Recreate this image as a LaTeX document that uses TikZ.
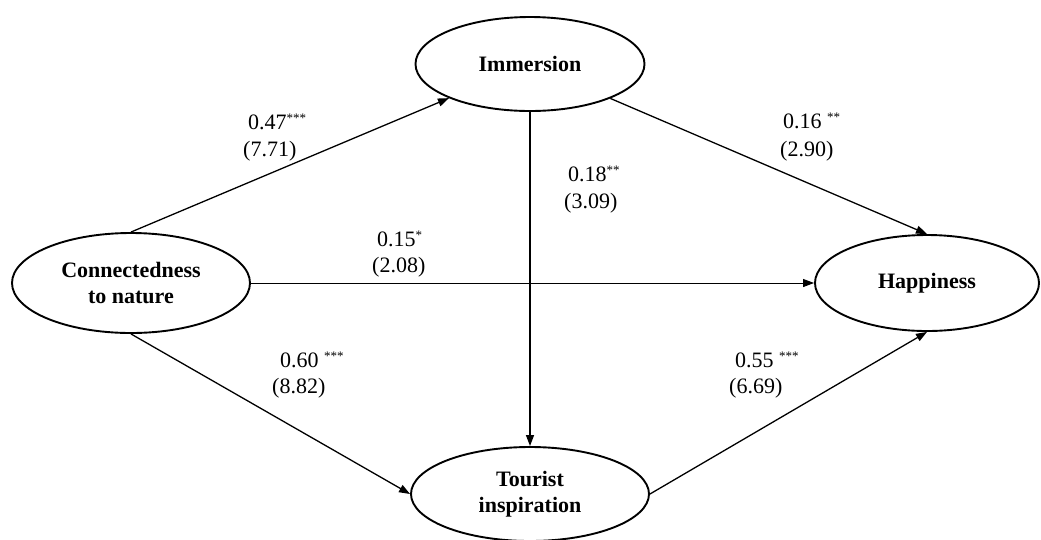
\documentclass[tikz,border=0pt]{standalone}
\usepackage{fontspec}
\setmainfont{Liberation Serif}
\usetikzlibrary{shapes.geometric,arrows.meta}
\newcommand{\sigstars}[1]{\raisebox{7pt}{\fontsize{13}{13}\selectfont #1}}
\begin{document}
\begin{tikzpicture}[x=1pt,y=-1pt,
  var/.style={ellipse,draw,line width=1.9pt,inner sep=0pt,align=center,
    font=\fontsize{22}{25.5}\selectfont\bfseries},
  pth/.style={line width=1.3pt,-{Triangle[length=11pt,width=8pt]}},
  coef/.style={anchor=base west,inner sep=0pt,font=\fontsize{22}{26}\selectfont}]
\useasboundingbox (0,0) rectangle (1041,539);
\node[var,minimum width=238pt,minimum height=100pt] (conn) at (131,283) {Connectedness\\to nature};
\node[var,minimum width=229pt,minimum height=94pt] (imm) at (530,64) {Immersion};
\node[var,minimum width=224pt,minimum height=96pt] (hap) at (927,283) {Happiness};
\node[var,minimum width=238pt,minimum height=94pt] (tour) at (530,494) {Tourist\\inspiration};

\draw[pth] (conn.north) -- (imm);
\draw[pth] (imm) -- (hap.north);
\draw[pth,line width=1pt] (conn) -- (hap);
\draw[pth] (conn.south) -- (tour.west);
\draw[pth] (imm) -- (tour);
\draw[pth] (tour.east) -- (hap.south);

\node[coef] (l1a) at (248,129) {0.47\sigstars{***}};
\node[coef] (l1b) at (243,156) {(7.71)};
\node[coef] (l2a) at (568,181) {0.18\sigstars{**}};
\node[coef] (l2b) at (564,208) {(3.09)};
\node[coef] (l3a) at (783,128) {0.16 \sigstars{**}};
\node[coef] (l3b) at (780,156) {(2.90)};
\node[coef] (l4a) at (377,246) {0.15\sigstars{*}};
\node[coef] (l4b) at (372,272) {(2.08)};
\node[coef] (l5a) at (280,367) {0.60 \sigstars{***}};
\node[coef] (l5b) at (272,393) {(8.82)};
\node[coef] (l6a) at (735,367) {0.55 \sigstars{***}};
\node[coef] (l6b) at (729,393) {(6.69)};
\end{tikzpicture}
\end{document}
